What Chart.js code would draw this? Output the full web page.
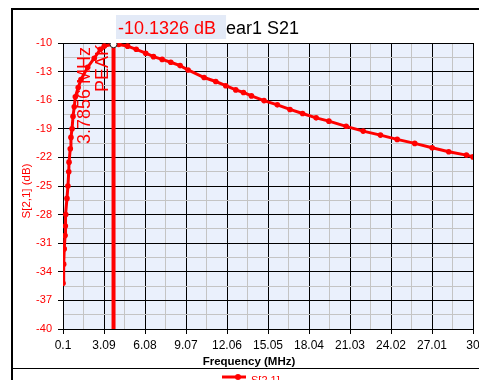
<!DOCTYPE html>
<html>
<head>
<meta charset="utf-8">
<script src="https://cdn.jsdelivr.net/npm/chart.js@4/dist/chart.umd.min.js"></script>
<style>
  html, body { margin: 0; padding: 0; background: #ffffff; }
  #wrap { width: 479px; height: 380px; position: relative; }
</style>
</head>
<body>
<div id="wrap"><canvas id="c" width="479" height="380"></canvas></div>
<script>
// ---- data ----
const freqMHz = [0.10, 0.15, 0.19, 0.25, 0.27, 0.30, 0.39, 0.46, 0.52, 0.54, 0.63, 0.68, 0.76, 0.83, 0.92,
  1.00, 1.21, 1.41, 1.90, 2.38, 2.82, 3.11, 3.7856, 4.16, 4.81, 5.44, 6.13, 6.70, 7.33, 7.96, 8.64, 9.22,
  10.39, 11.24, 11.97, 12.70, 13.26, 13.84, 14.76, 15.73, 16.65, 17.57, 18.56, 19.49, 20.75, 21.99,
  23.25, 24.47, 25.75, 27.02, 28.23, 29.52, 30.00];
const s21dB = [-35.2, -33.2, -31.6, -30.2, -29.2, -28.0, -26.3, -25.0, -23.5, -22.5, -21.1, -19.9, -19.0, -17.7, -16.7,
  -15.65, -14.67, -13.83, -12.54, -11.60, -10.66, -10.31, -10.1326, -10.15, -10.33, -10.66, -11.07, -11.43, -11.72, -12.02, -12.37, -12.83,
  -13.62, -14.04, -14.48, -14.92, -15.19, -15.55, -16.04, -16.49, -16.97, -17.39, -17.85, -18.20, -18.74, -19.24,
  -19.66, -20.11, -20.53, -20.99, -21.41, -21.76, -21.95];
const seriesName = 'S[2,1]';
const peakFreq = 3.7856;
const peakDb = -10.1326;
const peakValueText = '-10.1326 dB';
const peakFreqText = '3.7856 MHz';
const peakName = 'PEAK';
const titleRest = 'ear1 S21';
const xTickValues = [0.1, 3.09, 6.08, 9.07, 12.06, 15.05, 18.04, 21.03, 24.02, 27.01, 30];
const xTickLabels = ['0.1', '3.09', '6.08', '9.07', '12.06', '15.05', '18.04', '21.03', '24.02', '27.01', '30'];
const yTickValues = [-40, -37, -34, -31, -28, -25, -22, -19, -16, -13, -10];
const yTickLabels = ['-40', '-37', '-34', '-31', '-28', '-25', '-22', '-19', '-16', '-13', '-10'];
const xTitle = 'Frequency (MHz)';
const yTitle = 'S[2,1] (dB)';

const RED = '#ff0000';
const FONT = "'Liberation Sans', Arial, sans-serif";

function withMinor(values) {
  const out = [];
  for (let i = 0; i < values.length; i++) {
    out.push({ value: values[i], major: true });
    if (i < values.length - 1) out.push({ value: (values[i] + values[i + 1]) / 2, major: false });
  }
  return out;
}

const decor = {
  id: 'decor',
  beforeDraw(chart) {
    const { ctx, chartArea: a } = chart;
    ctx.save();
    ctx.fillStyle = '#ffffff';
    ctx.fillRect(0, 0, chart.width, chart.height);
    ctx.fillStyle = '#eaf0fc';
    ctx.fillRect(a.left, a.top, a.right - a.left, a.bottom - a.top);
    // outer frame
    ctx.strokeStyle = '#000';
    ctx.lineWidth = 2;
    ctx.beginPath();
    ctx.moveTo(12, 390); ctx.lineTo(12, 9); ctx.lineTo(485, 9);
    ctx.stroke();
    ctx.lineWidth = 1;
    ctx.beginPath();
    ctx.moveTo(12, 368.5); ctx.lineTo(485, 368.5);
    ctx.stroke();
    ctx.restore();
  },
  afterDraw(chart) {
    const { ctx, chartArea: a } = chart;
    const xs = chart.scales.x;
    ctx.save();
    // title with marker value box
    ctx.font = '18px ' + FONT;
    ctx.textBaseline = 'alphabetic';
    const w = ctx.measureText(peakValueText).width;
    ctx.fillStyle = '#e3eaf7';
    ctx.fillRect(116, 15, w + 12, 24);
    ctx.fillStyle = RED;
    ctx.textAlign = 'left';
    ctx.fillText(peakValueText, 118, 34);
    ctx.fillStyle = '#000';
    ctx.fillText(titleRest, 118 + w + 10, 34);

    // rotated marker labels
    const lx = xs.getPixelForValue(peakFreq);
    ctx.fillStyle = RED;
    ctx.font = '18px ' + FONT;
    ctx.textAlign = 'right';
    ctx.save();
    ctx.translate(lx - 6, a.top + 1);
    ctx.rotate(-Math.PI / 2);
    ctx.fillText(peakName, 0, 0);
    ctx.restore();
    ctx.save();
    ctx.translate(lx - 23.5, a.top + 4);
    ctx.rotate(-Math.PI / 2);
    ctx.fillText(peakFreqText, 0, 0);
    ctx.restore();

    // axis titles
    ctx.font = 'bold 11.5px ' + FONT;
    ctx.fillStyle = '#000';
    ctx.textAlign = 'center';
    ctx.textBaseline = 'middle';
    ctx.fillText(xTitle, 249, 362);
    ctx.save();
    ctx.font = '11.5px ' + FONT;
    ctx.fillStyle = RED;
    ctx.translate(27, 191);
    ctx.rotate(-Math.PI / 2);
    ctx.fillText(yTitle, 0, 0);
    ctx.restore();

    // legend
    ctx.strokeStyle = RED;
    ctx.lineWidth = 3;
    ctx.beginPath();
    ctx.moveTo(222, 377); ctx.lineTo(246, 377);
    ctx.stroke();
    ctx.fillStyle = RED;
    ctx.beginPath();
    ctx.arc(238, 377, 3, 0, Math.PI * 2);
    ctx.fill();
    ctx.font = '11px ' + FONT;
    ctx.textAlign = 'left';
    ctx.textBaseline = 'alphabetic';
    ctx.fillText(seriesName, 251, 384);
    ctx.restore();
  }
};

const seriesPoints = freqMHz.map((f, i) => ({ x: f, y: s21dB[i] }));

new Chart(document.getElementById('c'), {
  type: 'line',
  data: {
    datasets: [
      {
        label: 'peak',
        data: [{ x: peakFreq, y: peakDb }],
        showLine: false,
        pointRadius: 3.5,
        pointBackgroundColor: '#ffffff',
        pointBorderColor: '#222',
        pointBorderWidth: 1,
        order: 0
      },
      {
        label: seriesName,
        data: seriesPoints,
        borderColor: RED,
        backgroundColor: RED,
        borderWidth: 3,
        pointRadius: 2.8,
        pointBackgroundColor: RED,
        pointBorderColor: RED,
        pointBorderWidth: 0,
        tension: 0,
        order: 1
      },
      {
        label: 'marker line',
        data: [{ x: peakFreq, y: -40 }, { x: peakFreq, y: peakDb }],
        borderColor: RED,
        borderWidth: 4,
        pointRadius: 0,
        order: 2
      }
    ]
  },
  options: {
    responsive: false,
    animation: false,
    events: [],
    layout: { padding: { top: 43, right: 6, bottom: 0, left: 0 } },
    plugins: { legend: { display: false }, tooltip: { enabled: false }, title: { display: false } },
    scales: {
      x: {
        type: 'linear',
        min: 0.1,
        max: 30,
        afterBuildTicks(s) { s.ticks = withMinor(xTickValues); },
        afterFit(s) { s.height = 51; s.paddingLeft = 0; s.paddingRight = 0; s.paddingTop = 0; s.paddingBottom = 0; },
        ticks: {
          autoSkip: false,
          maxRotation: 0,
          minRotation: 0,
          padding: 4,
          color: '#000',
          font: { family: FONT, size: 12 },
          callback(v, i) { return i % 2 === 0 ? xTickLabels[i / 2] : ''; }
        },
        grid: {
          color: (c) => (c.index % 2 === 0 ? '#000' : '#c4c4c4'),
          tickColor: (c) => (c.index % 2 === 0 ? '#000' : 'rgba(0,0,0,0)'),
          lineWidth: 1,
          tickLength: 5
        },
        border: { display: true, color: '#000', width: 1 }
      },
      y: {
        type: 'linear',
        min: -40,
        max: -10,
        afterBuildTicks(s) { s.ticks = withMinor(yTickValues); },
        afterFit(s) { s.width = 63; s.paddingLeft = 0; s.paddingRight = 0; s.paddingTop = 0; s.paddingBottom = 0; },
        ticks: {
          autoSkip: false,
          padding: 6,
          color: RED,
          font: { family: FONT, size: 11 },
          callback(v, i) { return i % 2 === 0 ? yTickLabels[i / 2] : ''; }
        },
        grid: {
          color: (c) => (c.index % 2 === 0 ? '#000' : '#c4c4c4'),
          tickColor: (c) => (c.index % 2 === 0 ? '#000' : 'rgba(0,0,0,0)'),
          lineWidth: 1,
          tickLength: 5
        },
        border: { display: true, color: '#000', width: 1 }
      }
    }
  },
  plugins: [decor]
});
</script>
</body>
</html>
